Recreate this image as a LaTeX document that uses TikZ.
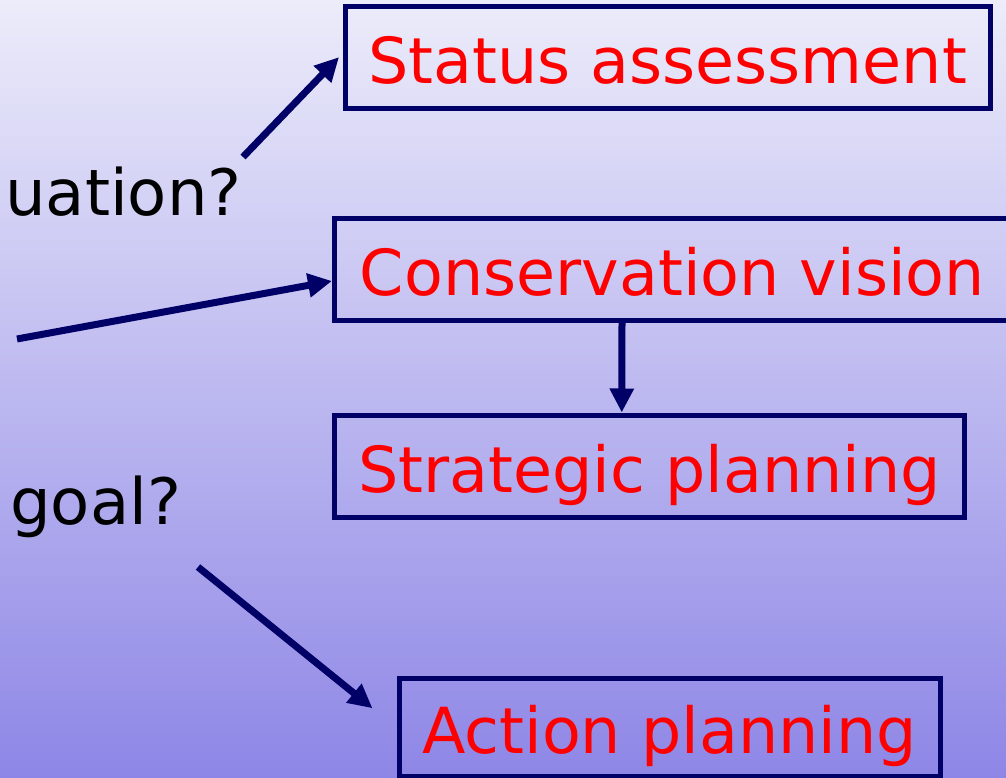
\documentclass[tikz,border=0pt]{standalone}
\usepackage{fontspec}
\setmainfont{DejaVu Sans}
\usepackage{tikz}
\usetikzlibrary{positioning, arrows.meta, calc}
\definecolor{navy}{RGB}{0,0,102}
\definecolor{bgtop}{RGB}{236,236,250}
\definecolor{bgbottom}{RGB}{142,134,230}

\begin{document}
\begin{tikzpicture}[x=1pt, y=-1pt, >={Triangle[length=24pt,width=23pt]},
  stagebox/.style={draw=navy, line width=5pt, text=red, font=\fontsize{63.5}{75}\selectfont,
    inner sep=0pt, text height=60pt, text depth=8pt, align=center},
  question/.style={anchor=base west, inner sep=0pt, text=black, font=\fontsize{64}{75}\selectfont},
  link/.style={->, draw=navy, line width=7pt}]
  \shade[top color=bgtop, bottom color=bgbottom] (0,0) rectangle (1006,778);
  \useasboundingbox (0,0) rectangle (1006,778);

  % stages
  \node[stagebox, minimum width=645pt, minimum height=102pt] (status) at (667.5,57.5) {Status assessment};
  \node[stagebox, minimum width=676pt, minimum height=102pt] (vision) at (672.5,269.5) {Conservation vision};
  \node[stagebox, minimum width=630pt, minimum height=102.5pt] (strategic) at (649.75,466.25) {Strategic planning};
  \node[stagebox, minimum width=541pt, minimum height=98.5pt] (action) at (669.5,727.25) {Action planning};

  % questions
  \node[question] (situation) at (5,215) {uation?};
  \node[question] (goal) at (10,524) {goal?};

  \coordinate (fromsituation) at (243,157);
  \coordinate (fromleft) at (17,339);
  \coordinate (fromgoal) at (198,567);

  \path
    (fromsituation) edge[link, shorten >=5pt] ([yshift=4pt]status.west)
    (fromleft) edge[link] ([yshift=-11.5pt]vision.west)
    ([xshift=-50.5pt]vision.south) edge[link] ([xshift=-28pt]strategic.north)
    (fromgoal) edge[link] ([xshift=-24pt,yshift=19pt]action.west);
\end{tikzpicture}
\end{document}
